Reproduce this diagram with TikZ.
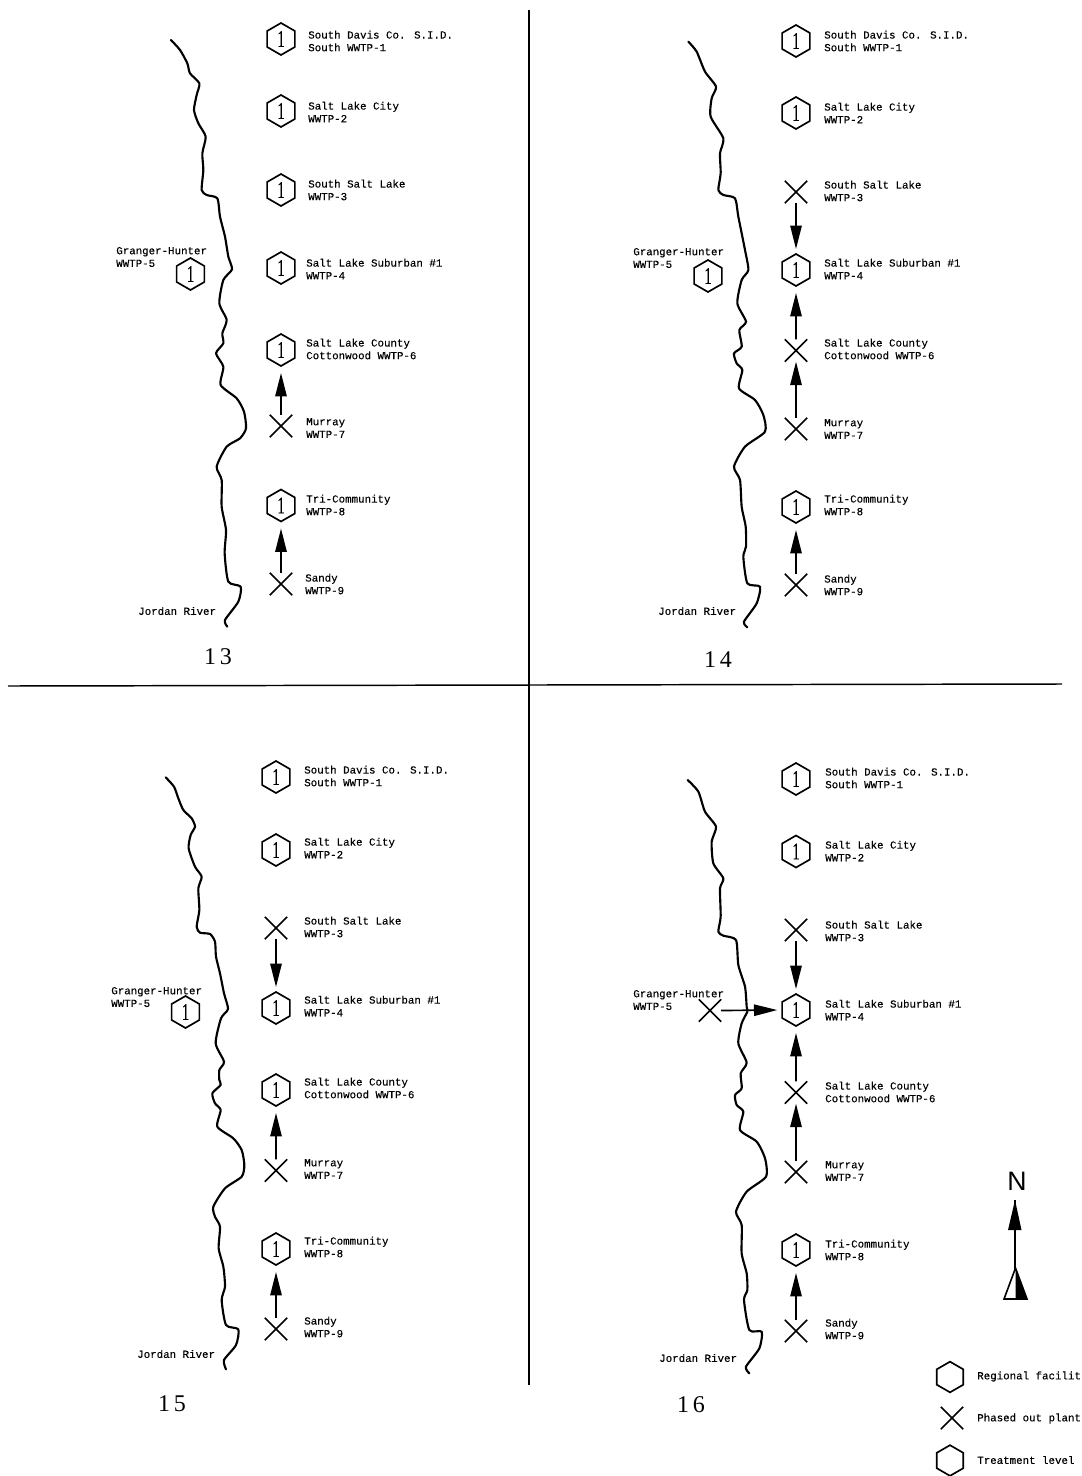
\documentclass[tikz,border=0pt]{standalone}
\usepackage{fontspec}
\setmainfont{Liberation Serif}
\newfontfamily\labfont[FakeBold=0.25]{Liberation Mono}
\newfontfamily\northfont{Liberation Sans}
\newfontfamily\hexfont[FakeBold=0.5]{Liberation Serif}
\usetikzlibrary{shapes.geometric,shapes.misc,arrows.meta}
\newcommand{\hexone}{\scalebox{.62}[1]{\hexfont\fontsize{18}{18}\selectfont 1}}
\tikzset{
  hexa/.style={draw,line width=1.25pt,regular polygon,regular polygon sides=6,regular polygon rotate=30,minimum size=24pt,inner sep=0pt},
  keyhex/.style={draw,line width=1.25pt,regular polygon,regular polygon sides=6,regular polygon rotate=30,minimum size=23pt,inner sep=0pt},
  xmark/.style={draw,line width=1.25pt,cross out,minimum width=15.5pt,minimum height=15.5pt,inner sep=0pt},
  plantlabel/.style={anchor=west,align=left,inner sep=0pt,font=\labfont\fontsize{8.1}{9.5}\selectfont},
  paneltitle/.style={inner sep=0pt,font=\fontsize{18}{18}\selectfont},
  flow/.style={line width=1.25pt,-{Triangle[length=17.5pt,width=8.5pt]}},
  riverline/.style={line width=1.6pt,line join=round,line cap=round},
  rule/.style={line width=1.1pt},
  zoomed/.style={x=0.25pt,y=-0.25pt}
}
\begin{document}
\begin{tikzpicture}[x=0.75pt,y=-0.75pt]
\useasboundingbox (0,0) rectangle (1081,1476);
% frame
\coordinate (vt) at (529,10); \coordinate (vb) at (529,1385);
\coordinate (hl) at (8,686); \coordinate (hr) at (1062,684);
\draw[rule] (vt) -- (vb);
\draw[rule] (hl) -- (hr);
% ---------- panel 13
\draw[riverline,shift={(100,20)},zoomed] plot[smooth,tension=.4] coordinates {
(213,60)(240,90)(262,130)(270,160)(298,190)(290,225)(282,270)(295,310)(317,350)(307,400)(310,450)(305,510)(320,525)(352,535)(360,590)(375,650)(385,710)(396,748)(370,780)(358,850)(380,900)(367,940)(370,970)(348,1000)(370,1040)(362,1095)(410,1135)(432,1175)(438,1225)(420,1255)(380,1280)(350,1340)(365,1380)(365,1460)(378,1530)(374,1600)(385,1685)(422,1700)(415,1745)(375,1800)(382,1820)};
\node[hexa] (a1) at (281,39) {\hexone};
\node[hexa] (a2) at (281,111) {\hexone};
\node[hexa] (a3) at (281,190) {\hexone};
\node[hexa] (a4) at (281,268) {\hexone};
\node[hexa] (a6) at (281,350) {\hexone};
\node[xmark] (a7) at (281,426) {};
\node[hexa] (a8) at (281,505.5) {\hexone};
\node[xmark] (a9) at (281,584) {};
\node[hexa] (a5) at (190.5,274) {\hexone};
\draw[flow,shorten >=4.5pt] (a7.north) -- (a6.south);
\draw[flow,shorten >=4.5pt] (a9.north) -- (a8.south);
\node[plantlabel] (la1) at (308,41) {South Davis Co. S.I.D.\\South WWTP-1};
\node[plantlabel] (la2) at (308,112) {Salt Lake City\\WWTP-2};
\node[plantlabel] (la3) at (308,190) {South Salt Lake\\WWTP-3};
\node[plantlabel] (la4) at (306,269) {Salt Lake Suburban \#1\\WWTP-4};
\node[plantlabel] (la6) at (306,349) {Salt Lake County\\Cottonwood WWTP-6};
\node[plantlabel] (la7) at (306,428) {Murray\\WWTP-7};
\node[plantlabel] (la8) at (306,505) {Tri-Community\\WWTP-8};
\node[plantlabel] (la9) at (305,584) {Sandy\\WWTP-9};
\node[plantlabel] (la5) at (116,257) {Granger-Hunter\\WWTP-5};
\node[plantlabel] (ra) at (138,611) {Jordan River};
\node[paneltitle] (ta) at (218,657) {1\,3};
% ---------- panel 14
\draw[riverline,shift={(630,20)},zoomed] plot[smooth,tension=.4] coordinates {
(175,65)(200,95)(225,155)(258,200)(245,235)(242,290)(280,355)(270,400)(272,460)(265,510)(280,525)(315,535)(325,590)(345,690)(355,750)(335,780)(322,850)(348,905)(328,930)(335,980)(312,1000)(320,1030)(337,1050)(327,1105)(375,1140)(400,1185)(405,1235)(345,1280)(312,1340)(330,1380)(335,1460)(347,1520)(348,1580)(340,1610)(352,1690)(390,1700)(380,1750)(342,1805)(352,1822)};
\node[hexa] (b1) at (796,41) {\hexone};
\node[hexa] (b2) at (796,113) {\hexone};
\node[xmark] (b3) at (796,192) {};
\node[hexa] (b4) at (796,270) {\hexone};
\node[xmark] (b6) at (796,350.5) {};
\node[xmark] (b7) at (796,429) {};
\node[hexa] (b8) at (796,507) {\hexone};
\node[xmark] (b9) at (796,585) {};
\node[hexa] (b5) at (708,276) {\hexone};
\draw[flow,shorten >=3pt] (b3.south) -- (b4.north);
\draw[flow,shorten >=4.5pt] (b6.north) -- (b4.south);
\draw[flow] (b7.north) -- (b6.south);
\draw[flow,shorten >=4.5pt] (b9.north) -- (b8.south);
\node[plantlabel] (lb1) at (824,41) {South Davis Co. S.I.D.\\South WWTP-1};
\node[plantlabel] (lb2) at (824,113) {Salt Lake City\\WWTP-2};
\node[plantlabel] (lb3) at (824,191) {South Salt Lake\\WWTP-3};
\node[plantlabel] (lb4) at (824,269) {Salt Lake Suburban \#1\\WWTP-4};
\node[plantlabel] (lb6) at (824,349) {Salt Lake County\\Cottonwood WWTP-6};
\node[plantlabel] (lb7) at (824,429) {Murray\\WWTP-7};
\node[plantlabel] (lb8) at (824,505) {Tri-Community\\WWTP-8};
\node[plantlabel] (lb9) at (824,585) {Sandy\\WWTP-9};
\node[plantlabel] (lb5) at (633,258) {Granger-Hunter\\WWTP-5};
\node[plantlabel] (rb) at (658,611) {Jordan River};
\node[paneltitle] (tb) at (718,660) {1\,4};
% ---------- panel 15
\draw[riverline,shift={(100,760)},zoomed] plot[smooth,tension=.4] coordinates {
(197,52)(222,80)(235,115)(250,150)(275,175)(285,200)(272,225)(266,265)(285,320)(305,350)(295,385)(298,450)(290,500)(300,518)(330,522)(345,545)(348,590)(360,640)(372,700)(384,747)(363,775)(347,850)(372,905)(358,930)(358,960)(362,975)(337,1000)(345,1030)(362,1050)(352,1100)(400,1135)(425,1170)(433,1215)(425,1250)(375,1285)(340,1340)(345,1370)(360,1400)(356,1465)(370,1520)(375,1580)(365,1620)(378,1695)(415,1708)(408,1755)(372,1800)(378,1828)};
\node[hexa] (c1) at (276,777) {\hexone};
\node[hexa] (c2) at (276,850) {\hexone};
\node[xmark] (c3) at (276,928) {};
\node[hexa] (c4) at (276,1008) {\hexone};
\node[hexa] (c6) at (276,1090) {\hexone};
\node[xmark] (c7) at (276,1170.5) {};
\node[hexa] (c8) at (276,1249) {\hexone};
\node[xmark] (c9) at (276,1329) {};
\node[hexa] (c5) at (185.5,1012) {\hexone};
\draw[flow,shorten >=3pt] (c3.south) -- (c4.north);
\draw[flow,shorten >=4.5pt] (c7.north) -- (c6.south);
\draw[flow,shorten >=4.5pt] (c9.north) -- (c8.south);
\node[plantlabel] (lc1) at (304,776) {South Davis Co. S.I.D.\\South WWTP-1};
\node[plantlabel] (lc2) at (304,848) {Salt Lake City\\WWTP-2};
\node[plantlabel] (lc3) at (304,927) {South Salt Lake\\WWTP-3};
\node[plantlabel] (lc4) at (304,1006) {Salt Lake Suburban \#1\\WWTP-4};
\node[plantlabel] (lc6) at (304,1088) {Salt Lake County\\Cottonwood WWTP-6};
\node[plantlabel] (lc7) at (304,1169) {Murray\\WWTP-7};
\node[plantlabel] (lc8) at (304,1247) {Tri-Community\\WWTP-8};
\node[plantlabel] (lc9) at (304,1327) {Sandy\\WWTP-9};
\node[plantlabel] (lc5) at (111,997) {Granger-Hunter\\WWTP-5};
\node[plantlabel] (rc) at (137,1354) {Jordan River};
\node[paneltitle] (tc) at (172,1404) {1\,5};
% ---------- panel 16
\draw[riverline,shift={(630,760)},zoomed] plot[smooth,tension=.4] coordinates {
(173,60)(205,95)(225,155)(258,200)(245,245)(250,310)(280,355)(270,385)(272,470)(265,515)(280,527)(318,540)(325,615)(345,680)(350,740)(352,755)(335,790)(325,850)(350,908)(332,940)(335,985)(315,1005)(320,1035)(340,1055)(330,1110)(380,1145)(405,1195)(408,1250)(350,1295)(318,1355)(335,1395)(335,1480)(350,1540)(352,1590)(342,1620)(358,1710)(395,1715)(388,1765)(348,1820)(358,1840)};
\node[hexa] (d1) at (796,779) {\hexone};
\node[hexa] (d2) at (796,851.5) {\hexone};
\node[xmark] (d3) at (796,930) {};
\node[hexa] (d4) at (796,1010) {\hexone};
\node[xmark] (d6) at (796,1092.5) {};
\node[xmark] (d7) at (796,1172) {};
\node[hexa] (d8) at (796,1250) {\hexone};
\node[xmark] (d9) at (796,1331) {};
\node[xmark] (d5) at (710,1010.5) {};
\draw[flow,shorten >=3pt] (d3.south) -- (d4.north);
\draw[flow,shorten >=4.5pt] (d6.north) -- (d4.south);
\draw[flow] (d7.north) -- (d6.south);
\draw[flow,shorten >=4.5pt] (d9.north) -- (d8.south);
\draw[flow,shorten >=3pt] (d5.east) -- (d4.west);
\node[plantlabel] (ld1) at (825,778) {South Davis Co. S.I.D.\\South WWTP-1};
\node[plantlabel] (ld2) at (825,851) {Salt Lake City\\WWTP-2};
\node[plantlabel] (ld3) at (825,931) {South Salt Lake\\WWTP-3};
\node[plantlabel] (ld4) at (825,1010) {Salt Lake Suburban \#1\\WWTP-4};
\node[plantlabel] (ld6) at (825,1092) {Salt Lake County\\Cottonwood WWTP-6};
\node[plantlabel] (ld7) at (825,1171) {Murray\\WWTP-7};
\node[plantlabel] (ld8) at (825,1250) {Tri-Community\\WWTP-8};
\node[plantlabel] (ld9) at (825,1329) {Sandy\\WWTP-9};
\node[plantlabel] (ld5) at (633,1000) {Granger-Hunter\\WWTP-5};
\node[plantlabel] (rd) at (659,1358) {Jordan River};
\node[paneltitle] (td) at (691,1405) {1\,6};
% ---------- north arrow
\node[inner sep=0pt,font=\northfont\fontsize{20}{20}\selectfont] (north) at (1017,1181) {N};
\coordinate (ntip) at (1015,1200);
\coordinate (nbase) at (1015,1299);
\draw[line width=1.1pt] (ntip) -- (nbase);
\fill (ntip) -- (1021.5,1230) -- (1008,1230) -- cycle;
\draw[line width=1.2pt,fill=white] (1015.5,1268) -- (1004,1299) -- (1027,1299) -- cycle;
\fill (1015.5,1268) -- (1027,1299) -- (1015.5,1299) -- cycle;
% ---------- legend
\node[keyhex] (k1) at (950,1377) {};
\node[xmark] (k2) at (952,1418) {};
\node[keyhex] (k3) at (950,1460.5) {};
\node[plantlabel] (lk1) at (977,1376.5) {Regional facilit};
\node[plantlabel] (lk2) at (977,1418.5) {Phased out plant};
\node[plantlabel] (lk3) at (977,1460) {Treatment level};
\end{tikzpicture}
\end{document}
